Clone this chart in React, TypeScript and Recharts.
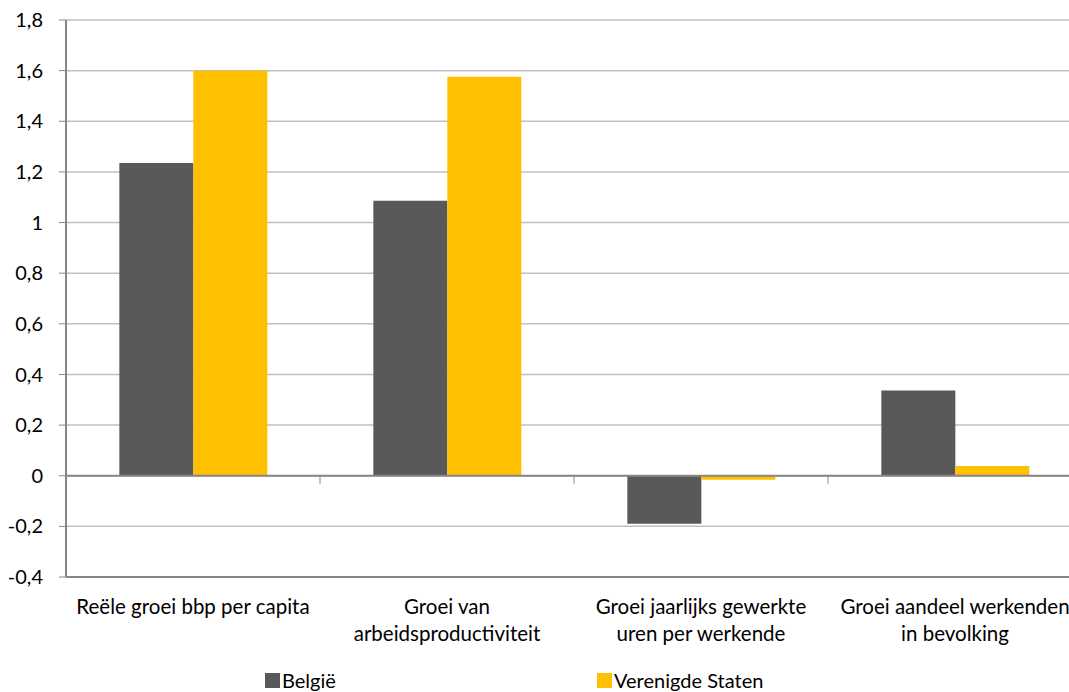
import { BarChart, Bar, XAxis, YAxis, CartesianGrid, Legend, ReferenceLine } from 'recharts'

const categories = [
  'Reële groei bbp per capita',
  'Groei van arbeidsproductiviteit',
  'Groei jaarlijks gewerkte uren per werkende',
  'Groei aandeel werkenden in bevolking',
]
const categoryLines = [
  ['Reële groei bbp per capita'],
  ['Groei van', 'arbeidsproductiviteit'],
  ['Groei jaarlijks gewerkte', 'uren per werkende'],
  ['Groei aandeel werkenden', 'in bevolking'],
]
const belgie = [1.235, 1.086, -0.19, 0.337]
const verenigdeStaten = [1.6, 1.576, -0.016, 0.038]
const yTicks = [-0.4, -0.2, 0, 0.2, 0.4, 0.6, 0.8, 1, 1.2, 1.4, 1.6, 1.8]

const FONT = 'Lato, "Open Sans", sans-serif'
const FONT_SIZE = 20

const data = categories.map((c, i) => ({
  name: c,
  belgie: belgie[i],
  vs: verenigdeStaten[i],
}))

function CategoryTick(props: any) {
  const { x, y, payload } = props
  const lines = categoryLines[payload.index] || [payload.value]
  return (
    <text x={x} y={y} textAnchor="middle" fill="#000" fontSize={20.5} fontFamily={FONT}>
      {lines.map((l, i) => (
        <tspan key={i} x={x} dy={i === 0 ? 29 : 27}>
          {l}
        </tspan>
      ))}
    </text>
  )
}

// zero line with category tick marks, like the Excel category axis crossing at 0
function ZeroAxis(props: any) {
  const { x1, y1, x2, y2 } = props
  const n = categories.length
  const step = (x2 - x1) / n
  const marks = []
  for (let k = 1; k < n; k++) {
    const x = x1 + step * k
    marks.push(<line key={k} x1={x} x2={x} y1={y1} y2={y1 + 8} stroke="#868686" strokeWidth={1} />)
  }
  return (
    <g>
      <line x1={x1} y1={y1} x2={x2} y2={y2} stroke="#868686" strokeWidth={2} />
      {marks}
    </g>
  )
}

function LegendContent() {
  const items = [
    { label: 'België', color: '#595959' },
    { label: 'Verenigde Staten', color: '#FFC000' },
  ]
  return (
    <div style={{ display: 'flex', fontFamily: FONT, fontSize: FONT_SIZE, color: '#000', lineHeight: '22px' }}>
      {items.map((it) => (
        <div key={it.label} style={{ width: 332, display: 'flex', alignItems: 'center' }}>
          <span style={{ width: 15, height: 15, background: it.color, marginRight: 2, display: 'inline-block' }} />
          <span>{it.label}</span>
        </div>
      ))}
    </div>
  )
}

export default function App() {
  return (
    <div style={{ position: 'absolute', left: 0, top: 0, width: 1069, height: 692, overflow: 'hidden', background: '#fff' }}>
      <BarChart
        width={1090}
        height={692}
        data={data}
        margin={{ top: 20, right: 8, bottom: 23, left: 0 }}
        barCategoryGap="21%"
        barGap={0}
      >
        <CartesianGrid horizontal vertical={false} stroke="#c0c0c0" strokeWidth={1.5} />
        <XAxis
          dataKey="name"
          interval={0}
          height={70}
          tick={<CategoryTick />}
          tickLine={false}
          axisLine={{ stroke: '#868686', strokeWidth: 2 }}
        />
        <YAxis
          width={66}
          domain={[-0.4, 1.8]}
          ticks={yTicks}
          interval={0}
          tickSize={7}
          tickMargin={16}
          tickFormatter={(v: number) => String(Math.round(v * 10) / 10).replace('.', ',')}
          tick={{ fill: '#000', fontSize: FONT_SIZE, fontFamily: FONT }}
          axisLine={{ stroke: '#868686', strokeWidth: 2 }}
          tickLine={{ stroke: '#868686' }}
        />
        <Bar dataKey="belgie" name="België" fill="#595959" isAnimationActive={false} />
        <Bar dataKey="vs" name="Verenigde Staten" fill="#FFC000" isAnimationActive={false} />
        <ReferenceLine y={0} shape={<ZeroAxis />} />
        <Legend
          verticalAlign="bottom"
          content={<LegendContent />}
          wrapperStyle={{ left: 265, top: 669, width: 700, height: 22 }}
        />
      </BarChart>
    </div>
  )
}
